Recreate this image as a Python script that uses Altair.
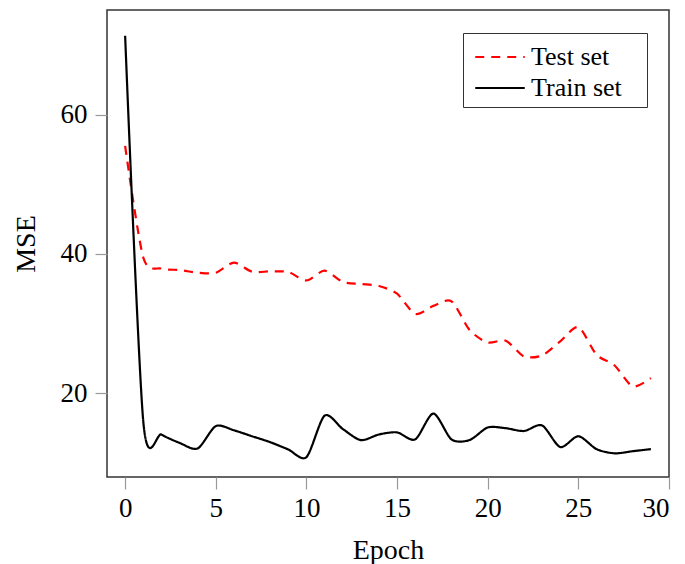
import altair as alt
import pandas as pd

epochs = list(range(30))
train_mse = [71.3, 16.0, 14.1, 12.9, 12.1, 15.3, 14.7, 13.85, 13.0, 11.95,
             10.85, 16.8, 14.9, 13.3, 14.1, 14.4, 13.4, 17.1, 13.4, 13.3,
             15.1, 15.0, 14.6, 15.4, 12.3, 13.85, 12.0, 11.4, 11.7, 12.0]
test_mse = [55.5, 39.5, 37.9, 37.7, 37.3, 37.3, 38.75, 37.45, 37.5, 37.4,
            36.2, 37.6, 36.0, 35.7, 35.4, 34.3, 31.4, 32.55, 33.2, 29.1,
            27.3, 27.55, 25.3, 25.45, 27.45, 29.5, 25.55, 24.0, 21.0, 22.2]
series_names = ["Test set", "Train set"]
x_ticks = [0, 5, 10, 15, 20, 25, 30]
y_ticks = [20, 40, 60]

rows = []
for e, v in zip(epochs, test_mse):
    rows.append({"epoch": e, "mse": v, "series": series_names[0]})
for e, v in zip(epochs, train_mse):
    rows.append({"epoch": e, "mse": v, "series": series_names[1]})
df = pd.DataFrame(rows)

FONT = "Liberation Serif"

legend_cfg = dict(title=None, orient="none", legendX=356, legendY=23,
                  symbolType="M-1.5,0L1.5,0", symbolSize=1089,
                  symbolStrokeWidth=2.2, symbolOffset=13,
                  labelFont=FONT, labelFontSize=26, labelColor="black",
                  labelOffset=13, rowPadding=0, padding=6,
                  labelExpr="datum.label + '\u2800'",
                  strokeColor="#333", fillColor="white")

chart = alt.Chart(df).mark_line(
    interpolate="cardinal", tension=0.2, strokeWidth=2.2, clip=True
).encode(
    x=alt.X("epoch:Q", title="Epoch",
            scale=alt.Scale(domain=[-1, 30], nice=False, zero=False),
            axis=alt.Axis(values=x_ticks, format="d", grid=False, domain=False,
                          tickSize=12, tickColor="#999", tickWidth=1.2,
                          labelFont=FONT, labelFontSize=27, labelColor="black",
                          labelPadding=6, titleFont=FONT, titleFontSize=28,
                          titleFontWeight="normal", titleColor="black", titlePadding=15)),
    y=alt.Y("mse:Q", title="MSE",
            scale=alt.Scale(domain=[8, 75], nice=False, zero=False),
            axis=alt.Axis(values=y_ticks, grid=False, domain=False,
                          tickSize=12, tickColor="#999", tickWidth=1.2,
                          labelFont=FONT, labelFontSize=27, labelColor="black",
                          labelPadding=8, titleFont=FONT, titleFontSize=28,
                          titleFontWeight="normal", titleColor="black", titlePadding=20)),
    color=alt.Color("series:N",
                    scale=alt.Scale(domain=series_names, range=["#ff0000", "#000000"]),
                    legend=alt.Legend(**legend_cfg)),
    strokeDash=alt.StrokeDash("series:N",
                              scale=alt.Scale(domain=series_names, range=[[9, 7], [1, 0]]),
                              legend=alt.Legend(**legend_cfg)),
).properties(
    width=562, height=467,
    autosize=alt.AutoSizeParams(type="none"),
    padding={"left": 99, "top": 2, "right": 8, "bottom": 100},
).configure_view(
    stroke="#333", strokeWidth=1.5
)

chart.save("out.html", embed_options={"renderer": "svg", "actions": False})
